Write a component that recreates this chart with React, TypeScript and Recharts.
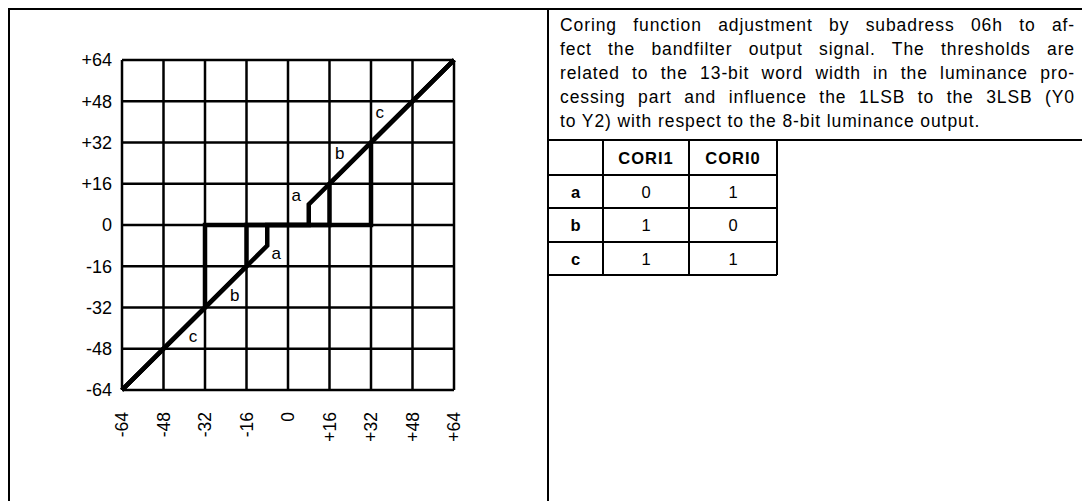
import { ComposedChart, Line, Scatter, XAxis, YAxis, CartesianGrid } from 'recharts';

// shared tick positions for both axes
const axisTicks = [-64, -48, -32, -16, 0, 16, 32, 48, 64];

// coring transfer curves, one per CORI setting (thresholds 8, 16, 32)
const curveA = [
  { x: -64, y: -64 },
  { x: -8, y: -8 },
  { x: -8, y: 0 },
  { x: 8, y: 0 },
  { x: 8, y: 8 },
  { x: 64, y: 64 },
];
const curveB = [
  { x: -64, y: -64 },
  { x: -16, y: -16 },
  { x: -16, y: 0 },
  { x: 16, y: 0 },
  { x: 16, y: 16 },
  { x: 64, y: 64 },
];
const curveC = [
  { x: -64, y: -64 },
  { x: -32, y: -32 },
  { x: -32, y: 0 },
  { x: 32, y: 0 },
  { x: 32, y: 32 },
  { x: 64, y: 64 },
];

// letters placed beside each curve branch
const curveLabels = [
  { x: 35.4, y: 43.6, name: 'c' },
  { x: 19.9, y: 27.8, name: 'b' },
  { x: 3.2, y: 11.6, name: 'a' },
  { x: -4.5, y: -11.0, name: 'a' },
  { x: -20.5, y: -27.2, name: 'b' },
  { x: -36.6, y: -43.3, name: 'c' },
];

const descriptionLines = [
  'Coring function adjustment by subadress 06h to af-',
  'fect the bandfilter output signal. The thresholds are',
  'related to the 13-bit word width in the luminance pro-',
  'cessing part and influence the 1LSB to the 3LSB (Y0',
  'to Y2) with respect to the 8-bit luminance output.',
];

const tableHeader = ['', 'CORI1', 'CORI0'];
const tableRows = [
  ['a', '0', '1'],
  ['b', '1', '0'],
  ['c', '1', '1'],
];

const FONT = '"Liberation Sans", Arial, Helvetica, sans-serif';

const fmt = (v: number) => (v > 0 ? `+${v}` : `${v}`);

const XTick = (props: any) => {
  const { x, y, payload } = props;
  return (
    <text
      x={x}
      y={y}
      transform={`rotate(-90 ${x} ${y})`}
      textAnchor="end"
      dy="0.35em"
      fontSize={17.5}
      fontFamily={FONT}
      fill="#000"
    >
      {fmt(payload.value)}
    </text>
  );
};

const LetterShape = (props: any) => (
  <text
    x={props.cx}
    y={props.cy}
    textAnchor="middle"
    dominantBaseline="central"
    fontSize={17}
    fontFamily={FONT}
    fill="#000"
  >
    {props.payload.name}
  </text>
);

// table geometry
const colEdges = [548, 603, 689, 777];
const rowEdges = [140, 175, 208, 242, 275];

function CoringTable() {
  const rows = [tableHeader, ...tableRows];
  return (
    <svg width={1082} height={501} style={{ position: 'absolute', left: 0, top: 0 }}>
      {rowEdges.slice(1).map((y) => (
        <line key={y} x1={colEdges[0]} x2={colEdges[3]} y1={y} y2={y} stroke="#000" strokeWidth={2} />
      ))}
      {colEdges.slice(1).map((x) => (
        <line key={x} x1={x} x2={x} y1={rowEdges[0]} y2={rowEdges[4]} stroke="#000" strokeWidth={2} />
      ))}
      {rows.map((r, ri) =>
        r.map((cell, ci) => (
          <text
            key={`${ri}-${ci}`}
            x={(colEdges[ci] + colEdges[ci + 1]) / 2}
            y={(rowEdges[ri] + rowEdges[ri + 1]) / 2}
            textAnchor="middle"
            dominantBaseline="central"
            fontSize={16.5}
            letterSpacing={ri === 0 ? 1 : 0}
            fontWeight={ri === 0 || ci === 0 ? 'bold' : 'normal'}
            fontFamily={FONT}
            fill="#000"
          >
            {cell}
          </text>
        ))
      )}
    </svg>
  );
}

export default function App() {
  return (
    <div
      style={{
        position: 'absolute',
        left: 0,
        top: 0,
        width: 1082,
        height: 501,
        background: '#fff',
        fontFamily: FONT,
        overflow: 'hidden',
      }}
    >
      {/* frame: top rule, left rule, middle divider, rule under the text */}
      <div style={{ position: 'absolute', left: 8, top: 8, width: 1074, height: 2, background: '#000' }} />
      <div style={{ position: 'absolute', left: 8, top: 8, width: 2, height: 493, background: '#000' }} />
      <div style={{ position: 'absolute', left: 547, top: 8, width: 2, height: 493, background: '#000' }} />
      <div style={{ position: 'absolute', left: 548, top: 139, width: 534, height: 2, background: '#000' }} />

      <div style={{ position: 'absolute', left: 0, top: 0 }}>
        <ComposedChart
          width={548}
          height={501}
          margin={{ top: 60, right: 94, bottom: 0, left: 0 }}
        >
          <CartesianGrid
            stroke="#000"
            strokeWidth={2.5}
            horizontalValues={axisTicks}
            verticalValues={axisTicks}
          />
          <XAxis
            type="number"
            dataKey="x"
            domain={[-64, 64]}
            ticks={axisTicks}
            interval={0}
            height={111}
            tickSize={0}
            tickMargin={22}
            axisLine={false}
            tick={<XTick />}
          />
          <YAxis
            type="number"
            dataKey="y"
            domain={[-64, 64]}
            ticks={axisTicks}
            interval={0}
            width={122}
            tickSize={0}
            tickMargin={10}
            axisLine={false}
            tickFormatter={fmt}
            tick={{ fill: '#000', fontSize: 18, fontFamily: FONT }}
          />
          {[curveA, curveB, curveC].map((d, i) => (
            <Line
              key={i}
              data={d}
              dataKey="y"
              type="linear"
              stroke="#000"
              strokeWidth={4.5}
              dot={false}
              activeDot={false}
              isAnimationActive={false}
            />
          ))}
          <Scatter data={curveLabels} dataKey="y" shape={<LetterShape />} isAnimationActive={false} />
        </ComposedChart>
      </div>

      <div
        style={{
          position: 'absolute',
          left: 560,
          top: 13,
          width: 515,
          fontSize: 17.5,
          letterSpacing: 0.9,
          lineHeight: '24px',
          color: '#000',
        }}
      >
        {descriptionLines.map((line, i) => (
          <div
            key={i}
            style={{
              textAlign: 'justify',
              textAlignLast: i === descriptionLines.length - 1 ? 'left' : 'justify',
              whiteSpace: 'nowrap',
            }}
          >
            {line}
          </div>
        ))}
      </div>

      <CoringTable />
    </div>
  );
}
